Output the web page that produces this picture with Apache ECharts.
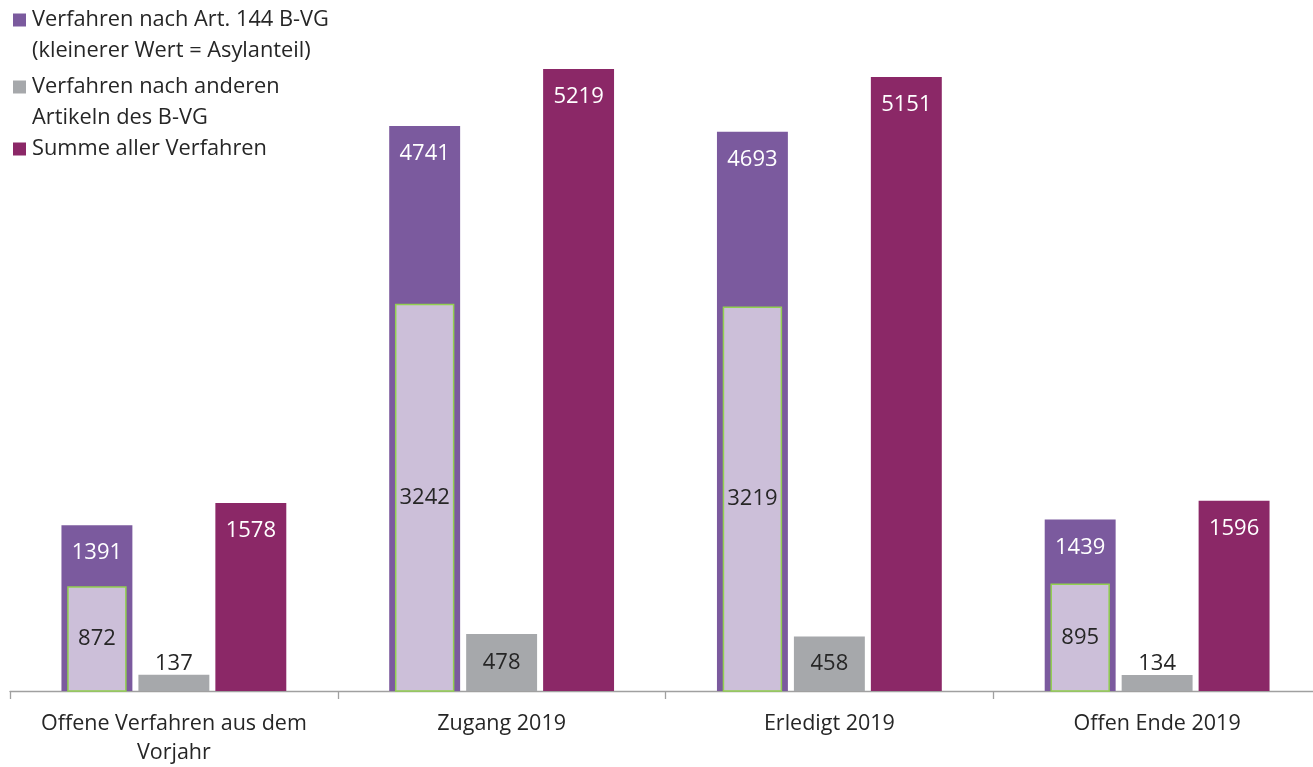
<!DOCTYPE html>
<html>
<head>
<meta charset="utf-8">
<script src="https://cdn.jsdelivr.net/npm/echarts@6/dist/echarts.min.js"></script>
<style>
html,body{margin:0;padding:0;background:#fff;}
#chart{width:1313px;height:767px;}
</style>
</head>
<body>
<div id="chart"></div>
<script>
const categories = ['Offene Verfahren aus dem\nVorjahr', 'Zugang 2019', 'Erledigt 2019', 'Offen Ende 2019'];
const art144Values = [1391, 4741, 4693, 1439];
const asylValues = [872, 3242, 3219, 895];
const otherValues = [137, 478, 458, 134];
const totalValues = [1578, 5219, 5151, 1596];
const legendNames = ['Verfahren nach Art. 144 B-VG\n(kleinerer Wert = Asylanteil)', 'Verfahren nach anderen\nArtikeln des B-VG', 'Summe aller Verfahren'];

const FONT = '"Open Sans", sans-serif';
const C_PURPLE = '#7B5A9E';
const C_LIGHT = '#CCBFD9';
const C_GREEN = '#92D050';
const C_GRAY = '#A6A8AB';
const C_MAG = '#8B2867';
const TXT = '#262626';
const CAT_GAP = 0.314, BAR_GAP = 0.085;
const NUM_SIZE = 22;

const chart = echarts.init(document.getElementById('chart'));

const legendGraphics = [];
const legendColors = [C_PURPLE, C_GRAY, C_MAG];
const legendTops = [20, 87, 149];
legendNames.forEach((n, i) => {
  legendGraphics.push({type: 'rect', left: 13, top: legendTops[i] - 6.5, shape: {width: 13, height: 13}, style: {fill: legendColors[i]}});
  legendGraphics.push({type: 'text', left: 32, top: legendTops[i] - 15, style: {text: n, fill: TXT, font: '21.8px ' + FONT, lineHeight: 30.5}});
});

chart.setOption({
  animation: false,
  grid: {left: 10, top: 35.5, width: 1311, bottom: 76, outerBoundsMode: 'none'},
  xAxis: {
    type: 'category', data: categories,
    axisLine: {lineStyle: {color: '#A0A0A0', width: 1.3}},
    axisTick: {show: true, length: 8, lineStyle: {color: '#A0A0A0', width: 1.3}},
    axisLabel: {interval: 0, color: TXT, fontFamily: FONT, fontSize: 21.5, lineHeight: 29, margin: 18}
  },
  yAxis: {type: 'value', min: 0, max: 5500, show: false, splitLine: {show: false}},
  graphic: legendGraphics,
  series: [
    {
      name: legendNames[0], type: 'bar', data: art144Values,
      barCategoryGap: (CAT_GAP * 100) + '%', barGap: (BAR_GAP * 100) + '%',
      itemStyle: {color: C_PURPLE},
      label: {show: true, position: 'insideTop', distance: 17, color: '#fff', fontFamily: FONT, fontSize: NUM_SIZE}
    },
    {
      name: legendNames[1], type: 'bar',
      data: otherValues.map(v => ({value: v, label: v < 300 ? {position: 'top', distance: 0} : {position: 'inside'}})),
      itemStyle: {color: C_GRAY},
      label: {show: true, color: TXT, fontFamily: FONT, fontSize: NUM_SIZE}
    },
    {
      name: legendNames[2], type: 'bar', data: totalValues,
      itemStyle: {color: C_MAG},
      label: {show: true, position: 'insideTop', distance: 17, color: '#fff', fontFamily: FONT, fontSize: NUM_SIZE}
    },
    {
      name: 'Asylanteil', type: 'custom',
      data: asylValues.map((v, i) => [i, v]),
      encode: {x: 0, y: 1},
      z: 3,
      renderItem: function (params, api) {
        const idx = api.value(0);
        const val = api.value(1);
        const top = api.coord([idx, val]);
        const base = api.coord([idx, 0]);
        const band = api.size([1, 0])[0];
        const barW = band * (1 - CAT_GAP) / (3 + 2 * BAR_GAP);
        const cx = top[0] - barW * (1 + BAR_GAP);
        const innerW = barW - 13;
        return {
          type: 'rect',
          shape: {x: cx - innerW / 2, y: top[1], width: innerW, height: base[1] - top[1]},
          style: {fill: C_LIGHT, stroke: C_GREEN, lineWidth: 1.5},
          textContent: {style: {text: String(val), fill: TXT, font: NUM_SIZE + 'px ' + FONT}},
          textConfig: {position: 'inside'}
        };
      }
    }
  ]
});
</script>
</body>
</html>
